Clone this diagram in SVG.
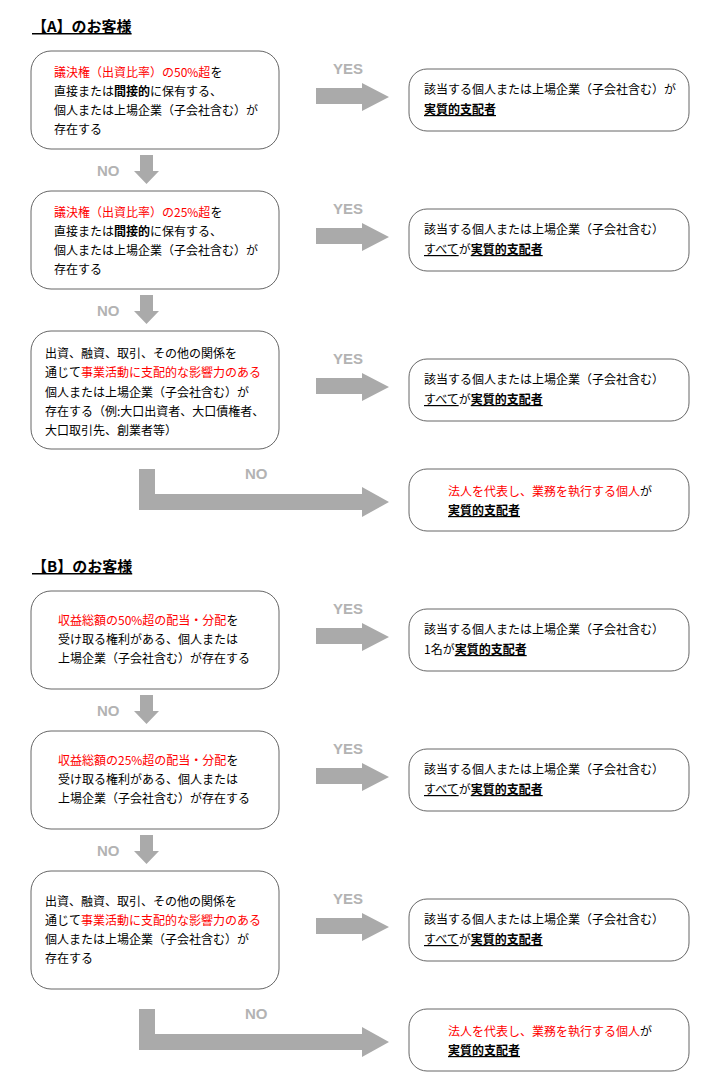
<svg xmlns="http://www.w3.org/2000/svg" width="720" height="1080" viewBox="0 0 720 1080">
<style>
text{font-family:"Noto Sans CJK JP","Liberation Sans",sans-serif;font-size:12px;fill:#000}
.r{fill:#ff0000}.b{font-weight:bold}.u{text-decoration:underline}
.h{font-size:15px;font-weight:bold;text-decoration:underline}
.lbl{font-family:"Liberation Sans",sans-serif;font-size:15px;font-weight:bold;fill:#b3b3b3}
.box{fill:#fff;stroke:#666;stroke-width:1}
.ar{fill:#aaaaaa}
</style>
<defs>
<path id="yes" class="ar" d="M316,88H362V83L389,97L362,111V104H316Z"/>
<path id="no" class="ar" d="M140,155H153V171H159L146.5,184L134,171H140Z"/>
<path id="lno" class="ar" d="M139,469H155V494H362V487L389,502L362,517V510H139Z"/>
</defs>
<g id="connectors">
<use href="#yes"/><use href="#yes" y="140"/><use href="#yes" y="290"/>
<use href="#no"/><use href="#no" y="140"/><use href="#lno"/>
<use href="#yes" y="540"/><use href="#yes" y="680"/><use href="#yes" y="830"/>
<use href="#no" y="540"/><use href="#no" y="680"/><use href="#lno" y="540"/>
<text class="lbl" x="333" y="74">YES</text><text class="lbl" x="333" y="214">YES</text><text class="lbl" x="333" y="364">YES</text>
<text class="lbl" x="97" y="176">NO</text><text class="lbl" x="97" y="316">NO</text><text class="lbl" x="245" y="479">NO</text>
<text class="lbl" x="333" y="614">YES</text><text class="lbl" x="333" y="754">YES</text><text class="lbl" x="333" y="904">YES</text>
<text class="lbl" x="97" y="716">NO</text><text class="lbl" x="97" y="856">NO</text><text class="lbl" x="245" y="1019">NO</text>
</g>
<text class="h" x="32" y="32">【A】のお客様</text>
<text class="h" x="32" y="572">【B】のお客様</text>
<g id="a1"><rect class="box" x="31" y="51" width="248" height="98" rx="20"/>
<text x="54" y="77"><tspan class="r">議決権（出資比率）の50%超</tspan>を</text>
<text x="54" y="96">直接または<tspan class="b">間接的</tspan>に保有する、</text>
<text x="54" y="115">個人または上場企業（子会社含む）が</text>
<text x="54" y="134">存在する</text></g>
<g id="a2"><rect class="box" x="31" y="191" width="248" height="98" rx="20"/>
<text x="54" y="217"><tspan class="r">議決権（出資比率）の25%超</tspan>を</text>
<text x="54" y="236">直接または<tspan class="b">間接的</tspan>に保有する、</text>
<text x="54" y="255">個人または上場企業（子会社含む）が</text>
<text x="54" y="274">存在する</text></g>
<g id="a3"><rect class="box" x="31" y="331" width="248" height="118" rx="20"/>
<text x="45" y="358">出資、融資、取引、その他の関係を</text>
<text x="45" y="377">通じて<tspan class="r">事業活動に支配的な影響力のある</tspan></text>
<text x="45" y="397">個人または上場企業（子会社含む）が</text>
<text x="45" y="416">存在する（例:大口出資者、大口債権者、</text>
<text x="45" y="435">大口取引先、創業者等）</text></g>
<g id="ra1"><rect class="box" x="409" y="69" width="280" height="62" rx="18"/>
<text x="424" y="94">該当する個人または上場企業（子会社含む）が</text>
<text x="424" y="114" class="b u">実質的支配者</text></g>
<g id="ra2"><rect class="box" x="409" y="209" width="280" height="62" rx="18"/>
<text x="424" y="234">該当する個人または上場企業（子会社含む）</text>
<text x="424" y="254"><tspan class="u">すべて</tspan>が<tspan class="b u">実質的支配者</tspan></text></g>
<g id="ra3"><rect class="box" x="409" y="359" width="280" height="62" rx="18"/>
<text x="424" y="384">該当する個人または上場企業（子会社含む）</text>
<text x="424" y="404"><tspan class="u">すべて</tspan>が<tspan class="b u">実質的支配者</tspan></text></g>
<g id="ra4"><rect class="box" x="409" y="469" width="280" height="62" rx="18"/>
<text x="448" y="496"><tspan class="r">法人を代表し、業務を執行する個人</tspan>が</text>
<text x="448" y="515" class="b u">実質的支配者</text></g>
<g id="b1"><rect class="box" x="31" y="591" width="248" height="98" rx="20"/>
<text x="58" y="625"><tspan class="r">収益総額の50%超の配当・分配</tspan>を</text>
<text x="58" y="644">受け取る権利がある、個人または</text>
<text x="58" y="663">上場企業（子会社含む）が存在する</text></g>
<g id="b2"><rect class="box" x="31" y="731" width="248" height="98" rx="20"/>
<text x="58" y="765"><tspan class="r">収益総額の25%超の配当・分配</tspan>を</text>
<text x="58" y="784">受け取る権利がある、個人または</text>
<text x="58" y="803">上場企業（子会社含む）が存在する</text></g>
<g id="b3"><rect class="box" x="31" y="871" width="248" height="118" rx="20"/>
<text x="45" y="906">出資、融資、取引、その他の関係を</text>
<text x="45" y="925">通じて<tspan class="r">事業活動に支配的な影響力のある</tspan></text>
<text x="45" y="944">個人または上場企業（子会社含む）が</text>
<text x="45" y="963">存在する</text></g>
<g id="rb1"><rect class="box" x="409" y="609" width="280" height="62" rx="18"/>
<text x="424" y="634">該当する個人または上場企業（子会社含む）</text>
<text x="424" y="654">1名が<tspan class="b u">実質的支配者</tspan></text></g>
<g id="rb2"><rect class="box" x="409" y="749" width="280" height="62" rx="18"/>
<text x="424" y="774">該当する個人または上場企業（子会社含む）</text>
<text x="424" y="794"><tspan class="u">すべて</tspan>が<tspan class="b u">実質的支配者</tspan></text></g>
<g id="rb3"><rect class="box" x="409" y="899" width="280" height="62" rx="18"/>
<text x="424" y="924">該当する個人または上場企業（子会社含む）</text>
<text x="424" y="944"><tspan class="u">すべて</tspan>が<tspan class="b u">実質的支配者</tspan></text></g>
<g id="rb4"><rect class="box" x="409" y="1009" width="280" height="62" rx="18"/>
<text x="448" y="1036"><tspan class="r">法人を代表し、業務を執行する個人</tspan>が</text>
<text x="448" y="1055" class="b u">実質的支配者</text></g>
</svg>
